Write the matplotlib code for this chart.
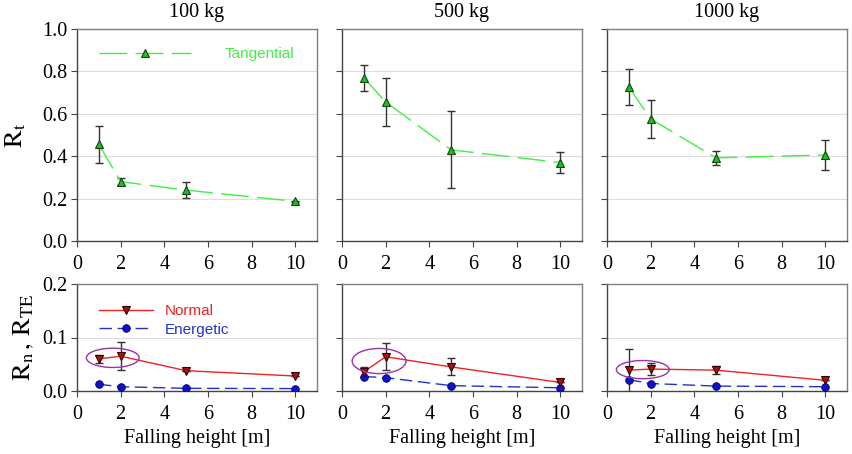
import numpy as np
import matplotlib
matplotlib.use("Agg")
import matplotlib.pyplot as plt
from matplotlib.patches import Ellipse

# Data
heights = [1, 2, 5, 10]
masses = ['100 kg', '500 kg', '1000 kg']

rt = {
    '100 kg': [0.456, 0.280, 0.240, 0.187],
    '500 kg': [0.769, 0.656, 0.430, 0.370],
    '1000 kg': [0.726, 0.576, 0.392, 0.406],
}
rt_err = {
    '100 kg': [0.086, 0.015, 0.036, 0.004],
    '500 kg': [0.060, 0.115, 0.182, 0.049],
    '1000 kg': [0.083, 0.090, 0.032, 0.071],
}
rn = {
    '100 kg': [0.060, 0.065, 0.038, 0.028],
    '500 kg': [0.036, 0.064, 0.045, 0.016],
    '1000 kg': [0.039, 0.041, 0.039, 0.020],
}
rn_err = {
    '100 kg': [0.008, 0.026, 0.0, 0.0],
    '500 kg': [0.009, 0.025, 0.016, 0.0],
    '1000 kg': [0.040, 0.012, 0.008, 0.0],
}
rte = {
    '100 kg': [0.0125, 0.008, 0.005, 0.0045],
    '500 kg': [0.027, 0.025, 0.010, 0.006],
    '1000 kg': [0.021, 0.014, 0.0092, 0.008],
}
# highlighted region (center x, center y, width, height) per mass
circles = {
    '100 kg': (1.64, 0.062, 2.42, 0.036),
    '500 kg': (1.70, 0.056, 2.47, 0.047),
    '1000 kg': (1.64, 0.040, 2.42, 0.034),
}

plt.rcParams['font.family'] = 'Liberation Serif'
plt.rcParams['mathtext.fontset'] = 'stix'
plt.rcParams['font.size'] = 14.5

fig = plt.figure(figsize=(8.53, 4.54), dpi=100)

lefts = [77, 342, 607]
W, H = 853.0, 454.0
green_line = '#44ee44'
green_fill = '#22bb22'
fmt = matplotlib.ticker.FormatStrFormatter('%.1f')


def style_axes(ax, ymax, ystep, show_ylabels):
    ax.set_xlim(0, 11)
    ax.set_ylim(0, ymax)
    ax.set_xticks([0, 2, 4, 6, 8, 10])
    ax.set_yticks(np.arange(0, ymax + 1e-9, ystep))
    ax.yaxis.set_major_formatter(fmt)
    ax.yaxis.grid(True, color='#dddddd', lw=0.8)
    ax.set_axisbelow(True)
    for s in ax.spines.values():
        s.set_color('#808080')
        s.set_linewidth(1.0)
    ax.spines['left'].set_color('#444444')
    ax.spines['bottom'].set_color('#444444')
    ax.tick_params(direction='out', length=4, color='#444444', labelsize=14.5)
    ax.tick_params(axis='x', pad=6)
    ax.tick_params(axis='y', pad=3, labelleft=show_ylabels)


for i, m in enumerate(masses):
    left = lefts[i] / W
    width = 240 / W

    # top: tangential
    ax = fig.add_axes([left, (H - 241) / H, width, 212 / H])
    style_axes(ax, 1.0, 0.2, i == 0)
    ax.errorbar(heights, rt[m], yerr=rt_err[m], fmt='none', ecolor='#333333',
                elinewidth=1, capsize=3, capthick=1, zorder=2)
    ln, = ax.plot(heights, rt[m], color=green_line, lw=1.0, marker='^', ms=5.5,
                  mfc=green_fill, mec='#114411', mew=0.8, label='Tangential', zorder=3)
    ln.set_dashes((20, 6))
    ax.set_title(m, fontsize=14.5, pad=9)
    if i == 0:
        ax.set_ylabel(r'$\mathrm{R_t}$', fontsize=19, labelpad=10)
        ax.legend(loc='upper left', frameon=False, handlelength=6.0,
                  handletextpad=2.2, labelcolor='linecolor',
                  prop={'family': 'Liberation Sans', 'size': 11},
                  bbox_to_anchor=(0.035, 0.98))

    # bottom: normal + energetic
    ax2 = fig.add_axes([left, (H - 391) / H, width, 107 / H])
    style_axes(ax2, 0.2, 0.1, i == 0)
    ax2.errorbar(heights, rn[m], yerr=rn_err[m], fmt='none', ecolor='#333333',
                 elinewidth=1, capsize=3, capthick=1, zorder=2)
    ax2.plot(heights, rn[m], color='#ee2222', lw=1.0, marker='v', ms=5.5,
             mfc='#aa1111', mec='#330000', mew=0.8, label='Normal', zorder=4)
    le, = ax2.plot(heights, rte[m], color='#2233cc', lw=1.0, marker='o', ms=5.5,
                   mfc='#1111cc', mec='#000066', mew=0.6, label='Energetic', zorder=3)
    le.set_dashes((9, 4))
    cx, cy, cw, ch = circles[m]
    ax2.add_patch(Ellipse((cx, cy), cw, ch, fill=False, ec='#9933aa', lw=1.0, zorder=5))
    ax2.set_xlabel('Falling height [m]', fontsize=14.5, labelpad=4)
    if i == 0:
        ax2.set_ylabel(r'$\mathrm{R_n\,,\,R_{TE}}$', fontsize=19, labelpad=4)
        ax2.legend(loc='upper left', frameon=False, handlelength=3.5,
                   handletextpad=0.8, labelcolor='linecolor', labelspacing=0.3,
                   prop={'family': 'Liberation Sans', 'size': 11},
                   bbox_to_anchor=(0.035, 0.94))

fig.savefig('out.png', dpi=100)
